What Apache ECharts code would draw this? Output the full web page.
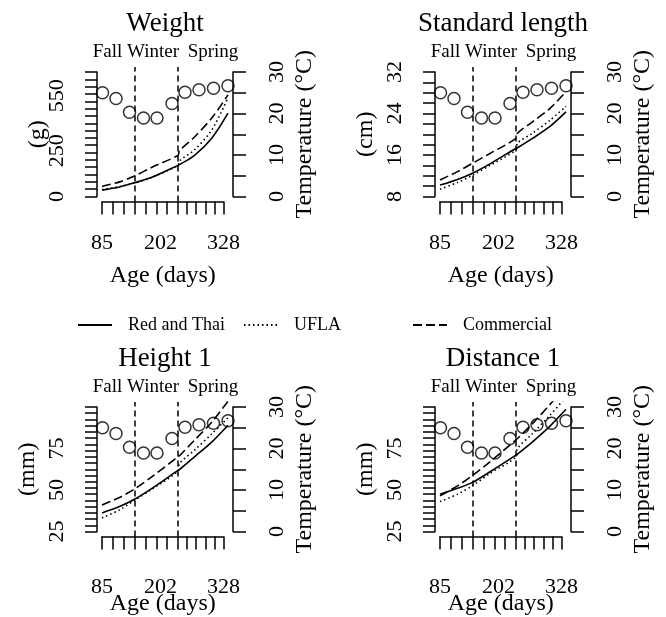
<!DOCTYPE html>
<html>
<head>
<meta charset="utf-8">
<title>Growth curves and water temperature</title>
<script src="https://cdn.jsdelivr.net/npm/echarts@6/dist/echarts.min.js"></script>
<style>
  html, body { margin: 0; padding: 0; background: #fff; }
  #chart { width: 666px; height: 617px; }
</style>
</head>
<body>
<div id="chart"></div>
<script>
const curveAges = [85, 120, 150, 185, 237, 240, 270, 305, 337];

// monthly water temperature, right axis
const tempAges = [86, 113, 140, 168, 195, 225, 251, 279, 308, 337];
const temps = [25.0, 23.6, 20.3, 18.9, 18.9, 22.4, 25.1, 25.7, 26.1, 26.7];
const tempTicks = [0, 5, 10, 15, 20, 25, 30];
const tempLabels = [0, 10, 20, 30];

// season boundaries
const seasonBreaks = [150, 237];
const seasons = ['Fall', 'Winter', 'Spring'];

// age axis
const ageTicks = [85, 107, 128, 150, 172, 194, 215, 237, 255, 273, 292, 310, 328];
const ageLabels = [85, 202, 328];

const lineNames = ['Red and Thai', 'UFLA', 'Commercial'];

// Weight (g)
const weightRed = [35, 52, 75, 105, 170, 174, 225, 320, 455];
const weightUfla = [38, 54, 74, 105, 170, 195, 255, 365, 540];
const weightComm = [55, 80, 112, 160, 225, 250, 325, 430, 555];

// Standard length (cm)
const slRed = [10.2, 11.3, 12.5, 14.3, 17.3, 17.4, 19.2, 21.5, 24.3];
const slUfla = [9.4, 10.7, 12.1, 14.0, 17.0, 18.3, 20.2, 22.7, 25.4];
const slComm = [11.2, 12.8, 14.4, 16.3, 19.2, 20.2, 22.4, 25.0, 28.2];

// Height 1 (mm)
const h1Red = [36.2, 40.0, 44.4, 51.0, 61.8, 62.3, 70.0, 79.0, 89.0];
const h1Ufla = [33.2, 38.0, 43.8, 50.5, 61.4, 65.9, 74.0, 84.0, 93.5];
const h1Comm = [41.0, 45.5, 50.6, 58.0, 70.0, 70.6, 80.0, 91.0, 103.5];

// Distance 1 (mm)
const d1Red = [47.5, 51.0, 54.6, 61.0, 71.0, 71.6, 79.0, 88.5, 98.6];
const d1Ufla = [43.0, 47.5, 52.6, 60.0, 70.0, 75.0, 84.0, 95.0, 106.0];
const d1Comm = [46.5, 52.5, 58.7, 67.0, 80.2, 81.0, 90.0, 101.5, 113.0];

function seq(from, to, by) {
  const out = [];
  for (let v = from; v <= to + 1e-9; v += by) out.push(+v.toFixed(4));
  return out;
}

const panels = [
  { title: 'Weight', unit: '(g)', min: 0, max: 680, ticks: seq(0, 680, 40),
    labels: [0, 250, 550], nameGap: 47, lines: [weightRed, weightUfla, weightComm] },
  { title: 'Standard length', unit: '(cm)', min: 8, max: 32, ticks: seq(8, 32, 2),
    labels: [8, 16, 24, 32], nameGap: 57, lines: [slRed, slUfla, slComm] },
  { title: 'Height 1', unit: '(mm)', min: 25, max: 100, ticks: seq(25, 100, 3.75),
    labels: [25, 50, 75], nameGap: 57, lines: [h1Red, h1Ufla, h1Comm] },
  { title: 'Distance 1', unit: '(mm)', min: 25, max: 100, ticks: seq(25, 100, 3.75),
    labels: [25, 50, 75], nameGap: 57, lines: [d1Red, d1Ufla, d1Comm] }
];

const font = 'Liberation Serif';
const black = '#000';
const dashes = ['solid', [1.5, 3], [9, 4]];
const dx = [0, 338, 0, 338];
const dy = [0, 0, 335, 335];
const seasonX = [107.5, 153, 213];

// R style plot region: 4% padding around the axis range
const pad = (lo, hi) => [lo - 0.04 * (hi - lo), hi + 0.04 * (hi - lo)];
const xRange = [75, 347];

const grid = [], xAxis = [], yAxis = [], series = [], graphic = [];

panels.forEach((p, i) => {
  const x0 = 97 + dx[i], y0 = dy[i];
  const g = grid.length;
  const bottomRow = i >= 2;

  grid.push({ left: x0, top: 67 + y0, width: 136, height: 134.5 });      // plot region
  grid.push({ left: x0, top: 72 + y0, width: 136, height: 124.5 });      // y axes
  grid.push({ left: x0 + 5, top: 200.5 + y0, width: 121.5, height: 1 }); // age axis

  const xi = xAxis.length, yi = yAxis.length;
  const yr = pad(p.min, p.max), tr = pad(0, 30);

  xAxis.push({ gridIndex: g, type: 'value', min: xRange[0], max: xRange[1], show: false });
  xAxis.push({ gridIndex: g + 1, type: 'value', min: xRange[0], max: xRange[1], show: false });
  xAxis.push({
    gridIndex: g + 2, type: 'value', min: 85, max: 328, position: 'bottom',
    axisLine: { show: true, lineStyle: { color: black, width: 1.5 } },
    axisTick: { show: true, customValues: ageTicks, length: 13, lineStyle: { color: black, width: 1.5 } },
    axisLabel: { customValues: ageLabels, color: black, fontFamily: font, fontSize: 22,
      margin: bottomRow ? 40 : 30.5 },
    splitLine: { show: false },
    name: 'Age (days)', nameLocation: 'middle', nameGap: bottomRow ? 55 : 62.5,
    nameMoveOverlap: false,
    nameTextStyle: { color: black, fontFamily: font, fontSize: 24 }
  });

  yAxis.push({ gridIndex: g, type: 'value', min: yr[0], max: yr[1], show: false });
  yAxis.push({ gridIndex: g, type: 'value', min: tr[0], max: tr[1], show: false, position: 'right' });
  yAxis.push({
    gridIndex: g + 1, type: 'value', min: p.min, max: p.max, position: 'left',
    axisLine: { show: true, lineStyle: { color: black, width: 1.5 } },
    axisTick: { show: true, customValues: p.ticks, length: 12, lineStyle: { color: black, width: 1.5 } },
    axisLabel: { customValues: p.labels, rotate: 90, color: black, fontFamily: font, fontSize: 22, margin: 29 },
    splitLine: { show: false },
    name: p.unit, nameLocation: 'middle', nameGap: p.nameGap, nameMoveOverlap: false,
    nameTextStyle: { color: black, fontFamily: font, fontSize: 24 }
  });
  yAxis.push({
    gridIndex: g + 1, type: 'value', min: 0, max: 30, position: 'right',
    axisLine: { show: true, lineStyle: { color: black, width: 1.5 } },
    axisTick: { show: true, customValues: tempTicks, length: 13, lineStyle: { color: black, width: 1.5 } },
    axisLabel: { customValues: tempLabels, rotate: 90, color: black, fontFamily: font, fontSize: 22, margin: 33 },
    splitLine: { show: false },
    name: 'Temperature (°C)', nameLocation: 'middle', nameGap: 60, nameMoveOverlap: false,
    nameTextStyle: { color: black, fontFamily: font, fontSize: 24 }
  });
  yAxis.push({ gridIndex: g + 2, type: 'value', min: 0, max: 1, show: false });

  p.lines.forEach((vals, k) => {
    const s = {
      type: 'line', name: lineNames[k], xAxisIndex: xi, yAxisIndex: yi,
      data: curveAges.map((a, j) => [a, vals[j]]),
      symbol: 'none', smooth: 0.3, clip: true, silent: true,
      lineStyle: { color: black, width: 1.6, type: dashes[k] },
      itemStyle: { color: black }
    };
    if (k === 0) {
      s.markLine = {
        silent: true, symbol: ['none', 'none'], label: { show: false },
        lineStyle: { color: black, width: 1.5, type: [6, 4] },
        data: seasonBreaks.map(v => ({ xAxis: v }))
      };
    }
    series.push(s);
  });

  series.push({
    type: 'scatter', name: 'Temperature', xAxisIndex: xi, yAxisIndex: yi + 1,
    data: tempAges.map((a, j) => [a, temps[j]]),
    symbol: 'circle', symbolSize: 12, silent: true,
    itemStyle: { color: 'rgba(0,0,0,0)', borderColor: black, borderWidth: 1.5 }
  });

  graphic.push({
    type: 'text', silent: true,
    style: { text: p.title, x: 165 + dx[i], y: 23.5 + y0, fill: black,
      font: '27px "Liberation Serif"', textAlign: 'center', textVerticalAlign: 'middle',
      align: 'center', verticalAlign: 'middle' }
  });
  seasons.forEach((name, k) => {
    graphic.push({
      type: 'text', silent: true,
      style: { text: name, x: seasonX[k] + dx[i], y: 52 + y0, fill: black,
        font: '19px "Liberation Serif"', textAlign: 'center', textVerticalAlign: 'middle',
        align: 'center', verticalAlign: 'middle' }
    });
  });
});

const legendBase = {
  top: 316, padding: 0, itemWidth: 34, itemHeight: 10, selectedMode: false,
  itemStyle: { opacity: 0 },
  textStyle: { color: black, fontFamily: font, fontSize: 18, padding: [0, 0, 0, 11] }
};

const option = {
  backgroundColor: '#fff',
  animation: false,
  grid: grid,
  xAxis: xAxis,
  yAxis: yAxis,
  series: series,
  graphic: graphic,
  legend: [
    Object.assign({}, legendBase, { left: 77, data: ['Red and Thai'] }),
    Object.assign({}, legendBase, { left: 243, data: ['UFLA'] }),
    Object.assign({}, legendBase, { left: 412, data: ['Commercial'] })
  ]
};

const chart = echarts.init(document.getElementById('chart'));
chart.setOption(option);
window.addEventListener('resize', () => chart.resize());
</script>
</body>
</html>
